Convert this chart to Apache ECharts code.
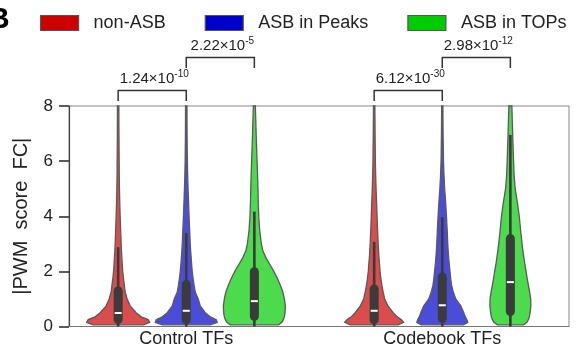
<!DOCTYPE html>
<html><head><meta charset="utf-8">
<script src="https://cdn.jsdelivr.net/npm/echarts@6/dist/echarts.min.js"></script>
<style>html,body{margin:0;padding:0;background:#fff}#c{width:577px;height:352px}</style>
</head><body><div id="c"></div>
<script>
// ---------- data ----------
const categories = ['Control TFs', 'Codebook TFs'];
const groups = ['non-ASB', 'ASB in Peaks', 'ASB in TOPs'];
const groupColors = ['#cc0000', '#0000cc', '#00cc00'];
const yTicks = [0, 2, 4, 6, 8];

// kernel density sample points (|PWM score FC|)
const densityY = [0.06, 0.15, 0.25, 0.35, 0.5, 0.75, 1.0, 1.25, 1.5, 1.75, 2.0, 2.25, 2.5, 2.75, 3.0, 3.5, 4.0, 4.5, 5.0, 5.5, 6.0, 7.0, 8.0];
// relative density per group: [Control TFs, Codebook TFs]
const densNonASB = [
  [25, 31.5, 30, 23, 18, 12, 9, 7, 6.2, 5.3, 4.6, 4.1, 3.7, 3.3, 3.0, 2.5, 2.0, 1.6, 1.3, 1.1, 1.0, 0.8, 0.7],
  [24, 29.5, 27, 23, 19, 13.8, 10.5, 9, 7.7, 6.7, 5.9, 5.4, 4.8, 4.4, 4.0, 3.4, 2.9, 2.4, 1.9, 1.5, 1.2, 0.9, 0.7]
];
const densPeaks = [
  [24, 31, 30, 24, 19, 14, 12, 9, 7.8, 6.8, 6.0, 5.4, 4.9, 4.4, 4.0, 3.4, 2.8, 2.3, 1.8, 1.4, 1.1, 0.8, 0.7],
  [21, 25.5, 24.5, 23, 21.5, 18.5, 13.5, 11, 9.3, 8.4, 7.7, 7.0, 6.4, 5.9, 5.5, 4.9, 4.2, 3.4, 2.4, 1.7, 1.2, 0.8, 0.6]
];
const densTOPs = [
  [24, 27.5, 29, 30, 30.7, 31, 30, 28.5, 26, 23, 19.5, 15.5, 11.5, 8.5, 7, 5.3, 4.4, 3.9, 3.6, 3.2, 2.7, 1.8, 1.0],
  [13, 16.5, 18, 19, 19.7, 20.5, 20.3, 19.3, 18, 16.8, 15.7, 14.5, 13.5, 12.5, 11.7, 10.2, 8.9, 7.0, 4.8, 3.7, 3.2, 2.3, 1.5]
];
// box statistics: [Control TFs, Codebook TFs]
const q1NonASB = [0.16, 0.15], medNonASB = [0.49, 0.57], q3NonASB = [1.38, 1.45], whiskNonASB = [2.88, 3.07];
const q1Peaks = [0.15, 0.20], medPeaks = [0.57, 0.77], q3Peaks = [1.61, 1.89], whiskPeaks = [3.39, 3.97];
const q1TOPs = [0.28, 0.45], medTOPs = [0.92, 1.61], q3TOPs = [2.08, 3.28], whiskTOPs = [4.17, 6.95];

// significance annotations
const pMantissa = ['1.24×10', '2.22×10', '6.12×10', '2.98×10'];
const pExponent = ['-10', '-5', '-30', '-12'];
const pCategory = [0, 0, 1, 1];
const pFromGroup = [0, 1, 0, 1];
const pToGroup = [1, 2, 1, 2];
const pLevel = [1, 2, 1, 2];

// ---------- assembly ----------
const dens = [densNonASB, densPeaks, densTOPs];
const q1s = [q1NonASB, q1Peaks, q1TOPs];
const meds = [medNonASB, medPeaks, medTOPs];
const q3s = [q3NonASB, q3Peaks, q3TOPs];
const whisks = [whiskNonASB, whiskPeaks, whiskTOPs];
const groupOffset = [-0.266, 0, 0.266];
const widthScale = 0.125 / 32;
const FONT = 'Liberation Sans, Arial, sans-serif';

function hexToRgba(h, a) {
  const r = parseInt(h.slice(1, 3), 16), g = parseInt(h.slice(3, 5), 16), b = parseInt(h.slice(5, 7), 16);
  return 'rgba(' + r + ',' + g + ',' + b + ',' + a + ')';
}

function violinRender(params, api) {
  const g = params.seriesIndex;
  const c = api.value(0);
  const cx = c + groupOffset[g];
  const d = dens[g][c];
  const right = [], left = [];
  for (let i = 0; i < densityY.length; i++) {
    const w = d[i] * widthScale;
    right.push(api.coord([cx + w, densityY[i]]));
    left.push(api.coord([cx - w, densityY[i]]));
  }
  const pts = right.concat(left.reverse());
  const px = api.coord([cx, 0])[0];
  const yQ1 = api.coord([cx, q1s[g][c]])[1];
  const yQ3 = api.coord([cx, q3s[g][c]])[1];
  const yMed = api.coord([cx, meds[g][c]])[1];
  const yWh = api.coord([cx, whisks[g][c]])[1];
  const y0 = api.coord([cx, 0])[1];
  return {
    type: 'group',
    children: [
      { type: 'polygon', shape: { points: pts },
        style: { fill: hexToRgba(groupColors[g], 0.7), stroke: '#5a5a5a', lineWidth: 1.3 } },
      { type: 'line', shape: { x1: px, y1: y0, x2: px, y2: yWh },
        style: { stroke: '#3b3b3b', lineWidth: 2.6 } },
      { type: 'rect', shape: { x: px - 4.5, y: yQ3 - 2, width: 9, height: yQ1 - yQ3 + 4, r: 4.5 },
        style: { fill: '#3b3b3b' } },
      { type: 'line', shape: { x1: px - 3.5, y1: yMed, x2: px + 3.5, y2: yMed },
        style: { stroke: '#ffffff', lineWidth: 2 } }
    ]
  };
}

function annotRender(params, api) {
  const i = api.value(0);
  const c = pCategory[i];
  const x1 = api.coord([c + groupOffset[pFromGroup[i]], 0])[0];
  const x2 = api.coord([c + groupOffset[pToGroup[i]], 0])[0];
  const top = params.coordSys.y;
  const yb = pLevel[i] === 1 ? top - 15.5 : top - 48.5;
  const legs = 10.5;
  return {
    type: 'group',
    children: [
      { type: 'polyline', shape: { points: [[x1, yb + legs], [x1, yb], [x2, yb], [x2, yb + legs]] },
        style: { stroke: '#333', lineWidth: 1.5, fill: null } },
      { type: 'text', x: (x1 + x2) / 2 + 2, y: yb - 4,
        style: {
          text: '{m|' + pMantissa[i] + '}{s|' + pExponent[i] + '}',
          fontSize: 15, fontFamily: FONT, fill: '#222',
          align: 'center', verticalAlign: 'bottom',
          rich: {
            m: { fontSize: 15, fontFamily: FONT, fill: '#222', lineHeight: 17, verticalAlign: 'bottom' },
            s: { fontSize: 10, fontFamily: FONT, fill: '#222', verticalAlign: 'top', lineHeight: 9 }
          }
        } }
    ]
  };
}

const series = groups.map((name, g) => ({
  name: name,
  type: 'custom',
  coordinateSystem: 'cartesian2d',
  itemStyle: { color: groupColors[g], borderColor: '#555', borderWidth: 1.2 },
  renderItem: violinRender,
  data: categories.map((_, c) => [c]),
  clip: false,
  z: 2
}));
series.push({
  name: 'annotations',
  type: 'custom',
  coordinateSystem: 'cartesian2d',
  renderItem: annotRender,
  data: pMantissa.map((_, i) => [i]),
  clip: false,
  silent: true,
  z: 5
});

const chart = echarts.init(document.getElementById('c'), null, { renderer: 'canvas' });
chart.setOption({
  animation: false,
  backgroundColor: '#fff',
  textStyle: { fontFamily: FONT },
  graphic: [{ type: 'text', left: -12, top: 5,
    style: { text: 'B', fontSize: 30, fontWeight: 'bold', fill: '#000', fontFamily: FONT } }],
  legend: {
    data: groups, left: 40, top: 14, padding: 0, icon: 'rect', itemWidth: 38, itemHeight: 15, itemGap: 39,
    itemStyle: { borderColor: '#555', borderWidth: 1.2 },
    textStyle: { fontSize: 18, color: '#222', padding: [0, 0, 0, 10] }
  },
  grid: { left: 69, right: 8, top: 106, bottom: 25.5, show: true, borderColor: '#888', borderWidth: 1, containLabel: false },
  xAxis: {
    type: 'value', min: -0.458, max: 1.495,
    splitLine: { show: false },
    axisLine: { show: true, onZero: false, lineStyle: { color: '#777', width: 1 } },
    axisTick: { show: false },
    axisLabel: {
      customValues: [0, 1], fontSize: 18, color: '#222', margin: 4,
      formatter: v => categories[Math.round(v)] || ''
    }
  },
  yAxis: {
    type: 'value', min: 0, max: 8, interval: 2,
    name: '|PWM  score  FC|', nameLocation: 'middle', nameGap: 38,
    nameTextStyle: { fontSize: 20, color: '#222' },
    splitLine: { show: false },
    axisLine: { show: true, onZero: false, lineStyle: { color: '#444', width: 1.2 } },
    axisTick: { show: true, inside: false, length: 10, lineStyle: { color: '#333', width: 1.6 } },
    axisLabel: { fontSize: 17, color: '#222', margin: 16 }
  },
  series: series
});
</script></body></html>
